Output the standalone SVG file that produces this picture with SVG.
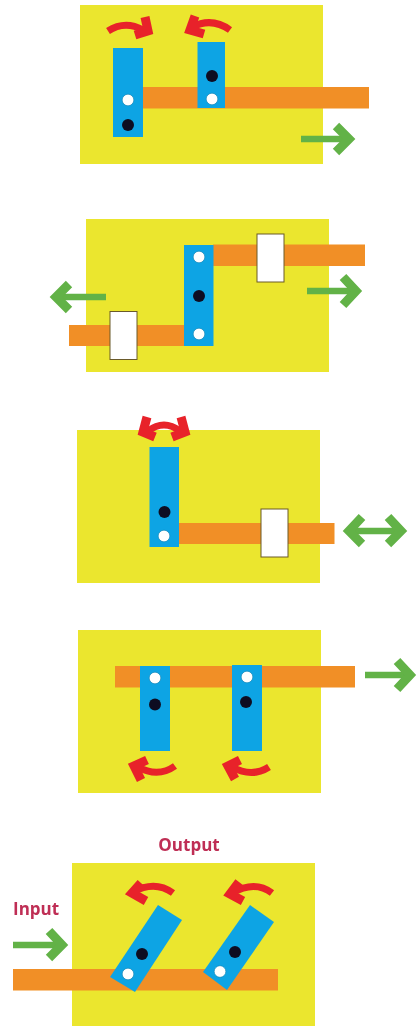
<svg xmlns="http://www.w3.org/2000/svg" width="417" height="1027" viewBox="0 0 417 1027">
<style>
.y{fill:#ebe62e}.o{fill:#f18f26}.b{fill:#0fa4e4}
.s{fill:#fff;stroke:#6b5a2a;stroke-width:1}
.w{fill:#fff;stroke:#0d7fb0;stroke-width:.6}.k{fill:#0c1024}
.g,.gh,.r,.rh{fill:none}
.g{stroke:#62b246;stroke-width:6.5}.gh{stroke:#62b246;stroke-width:9}
.r{stroke:#e8222a;stroke-width:7}.rh{stroke:#e8222a;stroke-width:9}
text{font-family:"Open Sans",sans-serif;font-weight:700;font-size:17px;fill:#bf2f55}
</style>
<defs><filter id="soft" filterUnits="userSpaceOnUse" x="0" y="0" width="417" height="1027"><feGaussianBlur stdDeviation="0.7"/></filter></defs>
<rect width="417" height="1027" fill="#fff"/>
<g filter="url(#soft)">
<g id="panel1">
<rect class="y" x="80" y="5" width="243" height="159"/>
<rect class="o" x="143" y="87" width="226" height="21.5"/>
<rect class="b" x="113" y="48" width="30" height="89"/>
<rect class="b" x="197.500" y="42" width="27.500" height="66"/>
<circle class="w" cx="128" cy="100" r="5.800"/><circle class="k" cx="128" cy="125" r="6"/>
<circle class="k" cx="212" cy="76" r="6"/><circle class="w" cx="212" cy="99" r="5.800"/>
</g>
<g id="panel2">
<rect class="y" x="86" y="219" width="243" height="153"/>
<rect class="o" x="213" y="244.500" width="152" height="21.500"/>
<rect class="o" x="69" y="325" width="116" height="21"/>
<rect class="b" x="184" y="245" width="29.500" height="101"/>
<circle class="w" cx="199" cy="257" r="5.800"/><circle class="k" cx="199" cy="296" r="6"/><circle class="w" cx="199" cy="334" r="5.800"/>
<rect class="s" x="257" y="234" width="27" height="48"/>
<rect class="s" x="110" y="311.500" width="27" height="48"/>
</g>
<g id="panel3">
<rect class="y" x="77" y="430" width="243" height="153"/>
<rect class="o" x="179" y="523" width="155.500" height="21"/>
<rect class="b" x="149.500" y="447" width="29.500" height="100"/>
<circle class="k" cx="164.500" cy="512" r="6"/><circle class="w" cx="164" cy="536" r="5.800"/>
<rect class="s" x="261" y="509" width="27" height="48"/>
</g>
<g id="panel4">
<rect class="y" x="78" y="630" width="243" height="163"/>
<rect class="o" x="115" y="666" width="240" height="21.500"/>
<rect class="b" x="140" y="666" width="30" height="85"/>
<rect class="b" x="232" y="665" width="30" height="86"/>
<circle class="w" cx="155" cy="678" r="5.800"/><circle class="k" cx="155" cy="704.500" r="6"/>
<circle class="w" cx="247" cy="677" r="5.800"/><circle class="k" cx="246" cy="702" r="6"/>
</g>
<g id="panel5">
<rect class="y" x="72" y="863" width="243" height="163"/>
<rect class="o" x="13" y="969" width="265" height="21.500"/>
<polygon class="b" points="158,905 182,920 135,992 110,977"/>
<polygon class="b" points="250,905 274,922 227,990 203,972"/>
<circle class="w" cx="128" cy="974" r="5.800"/><circle class="k" cx="142" cy="954" r="6"/>
<circle class="w" cx="220" cy="971.500" r="5.800"/><circle class="k" cx="235" cy="952" r="6"/>
<text x="13" y="915">Input</text>
<text x="189" y="851" text-anchor="middle">Output</text>
</g>
<g id="connectors">
<path class="r" d="M108 31Q125 20 143 30"/><path class="rh" d="M145 17L148 31L135 35"/>
<path class="r" d="M230 30Q212 17 192 27"/><path class="rh" d="M195 16L190 30L204 34"/>
<path class="g" d="M301 139H348"/><path class="gh" d="M336 126L349 139L336 152"/>
<path class="g" d="M307 291H354"/><path class="gh" d="M343 277L356 291L343 305"/>
<path class="g" d="M106 297H58"/><path class="gh" d="M69 284L56 297L69 310"/>
<path class="r" d="M148 431Q164 419 180 431"/><path class="rh" d="M147 417L143 432L155 437"/><path class="rh" d="M181 417L185 432L172 437"/>
<path class="g" d="M352 531H398"/><path class="gh" d="M362 517L349 531L362 544"/><path class="gh" d="M388 517L401 531L388 544"/>
<path class="g" d="M365 675H407"/><path class="gh" d="M397 661L410 675L397 689"/>
<path class="r" d="M175 766Q158 778 138 767"/><path class="rh" d="M147 760L134 766L141 780"/>
<path class="r" d="M269 767Q252 778 232 767"/><path class="rh" d="M240 760L228 766L235 779"/>
<path class="g" d="M13 945H59"/><path class="gh" d="M49 931L62 945L49 958"/>
<path class="r" d="M173 893Q155 880 133 892"/><path class="rh" d="M141 883L132 893L146 901"/>
<path class="r" d="M272 893Q255 880 232 893"/><path class="rh" d="M239 882L230 894L243 901"/>
</g>
</g>
</svg>
